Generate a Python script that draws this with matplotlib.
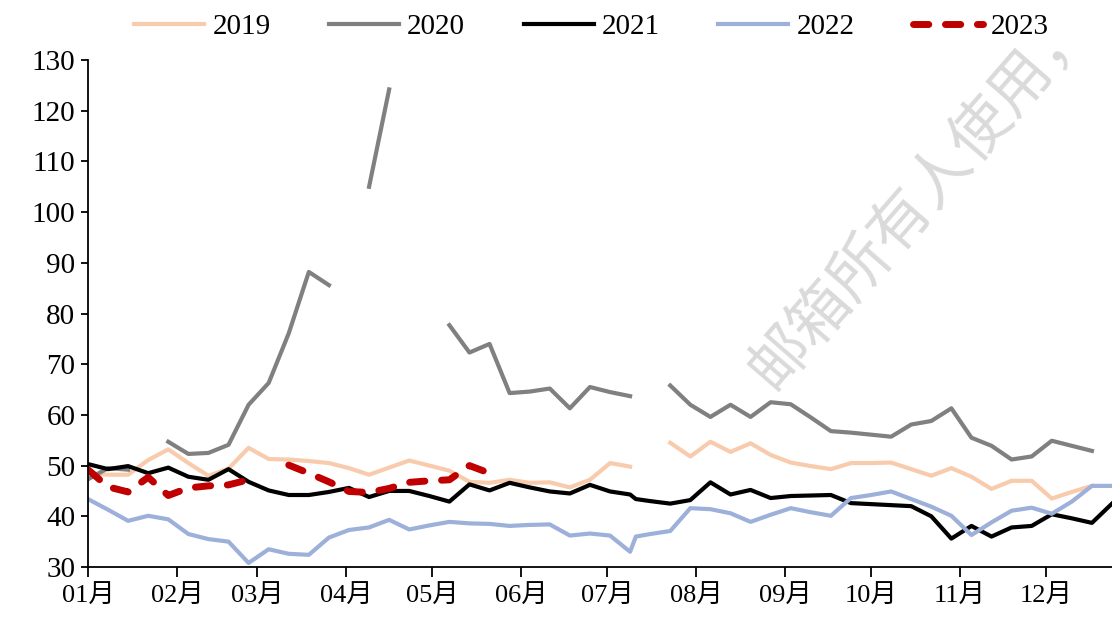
import numpy as np
import pandas as pd
import matplotlib
matplotlib.use("Agg")
import matplotlib.pyplot as plt
import matplotlib.dates as mdates

plt.rcParams['font.family'] = ['Liberation Serif', 'Noto Sans CJK SC']

# weekly dates (same calendar days each year)
weeks = ["01-01", "01-08", "01-15", "01-22", "01-29", "02-05", "02-12", "02-19", "02-26",
         "03-05", "03-12", "03-19", "03-26", "04-02", "04-09", "04-16", "04-23", "04-30",
         "05-07", "05-14", "05-21", "05-28", "06-04", "06-11", "06-18", "06-25",
         "07-02", "07-09", "07-16", "07-23", "07-30", "08-06", "08-13", "08-20", "08-27",
         "09-03", "09-10", "09-17", "09-24", "10-01", "10-08", "10-15", "10-22", "10-29",
         "11-05", "11-12", "11-19", "11-26", "12-03", "12-10", "12-17", "12-24"]
# 2021 / 2022 have one extra point on 07-11
weeks_b = weeks[:28] + ["07-11"] + weeks[28:]

v2019 = [48.5, 48.2, 48.2, 51.1, 53.2, 50.5, 48.0, 49.4, 53.5, 51.3, 51.2, 50.9, 50.5,
         49.5, 48.2, 49.6, 51.0, 50.0, 49.0, 46.8, 46.6, 47.2, 46.6, 46.7, 45.7, 47.2,
         50.5, 49.8, None, 54.5, 51.8, 54.7, 52.7, 54.4, 52.1, 50.6, 49.9, 49.3, 50.5,
         50.5, 50.6, 49.3, 48.0, 49.5, 47.8, 45.4, 47.0, 47.0, 43.5, 44.8, 46.0, None]
v2020 = [47.3, 49.5, 49.2, None, 54.7, 52.3, 52.5, 54.1, 62.0, 66.3, 76.1, 88.2, 85.6,
         None, 105.0, 124.2, None, None, 77.7, 72.3, 74.0, 64.3, 64.6, 65.2, 61.3, 65.5,
         64.5, 63.7, None, 65.8, 62.0, 59.6, 62.0, 59.6, 62.5, 62.1, 59.5, 56.8, 56.5,
         56.1, 55.7, 58.1, 58.8, 61.3, 55.5, 53.9, 51.2, 51.8, 54.9, 53.9, 52.9, None]
v2021 = [50.3, 49.3, 49.9, 48.5, 49.6, 47.8, 47.2, 49.3, 46.8, 45.1, 44.2, 44.2, 44.8,
         45.6, 43.8, 45.0, 45.0, 44.0, 42.9, 46.3, 45.1, 46.6, 45.7, 44.9, 44.5, 46.2,
         44.9, 44.3, 43.4, 43.0, 42.5, 43.2, 46.7, 44.3, 45.2, 43.6, 44.0, 44.1, 44.2,
         42.6, 42.4, 42.2, 42.0, 40.0, 35.6, 38.1, 36.0, 37.8, 38.1, 40.4, 39.6, 38.7, 42.5]
v2022 = [43.4, 41.3, 39.1, 40.1, 39.4, 36.5, 35.5, 35.0, 30.8, 33.5, 32.6, 32.4, 35.8,
         37.3, 37.8, 39.3, 37.4, 38.2, 38.9, 38.6, 38.5, 38.1, 38.3, 38.4, 36.2, 36.6,
         36.2, 33.0, 36.0, 36.5, 37.1, 41.6, 41.4, 40.6, 38.9, 40.3, 41.6, 40.8, 40.1,
         43.6, 44.2, 44.9, 43.4, 41.9, 40.1, 36.3, 38.8, 41.1, 41.7, 40.5, 42.9, 46.0, 46.0]
v2023 = [49.2, 45.8, 44.8, 47.7, 44.1, 45.6, 46.0, 46.2, 47.2, None, 50.1, 48.5, 46.8,
         44.9, 44.7, 45.5, 46.7, 47.0, 47.2, 50.0, 48.5]

yticks = list(range(30, 140, 10))


def to_dates(md):
    return pd.to_datetime(["2021-" + s for s in md])


def to_vals(v):
    return np.array([np.nan if x is None else x for x in v], dtype=float)


fig = plt.figure(figsize=(11.12, 6.2), dpi=100)
ax = fig.add_axes([0.0791, 0.0855, 0.9209, 0.8177])

# watermark
fig.text(0.828, 0.684, "邮箱所有人使用，", fontsize=44, color="#DADADA",
         rotation=49, ha="center", va="center", rotation_mode="anchor",
         family=["Noto Sans CJK SC"], zorder=0)

ax.plot(to_dates(weeks), to_vals(v2019), color="#F8CBAD", lw=3, label="2019")
ax.plot(to_dates(weeks), to_vals(v2020), color="#808080", lw=3, label="2020")
ax.plot(to_dates(weeks_b), to_vals(v2021), color="#000000", lw=3, label="2021")
ax.plot(to_dates(weeks_b), to_vals(v2022), color="#9DB0DA", lw=3, label="2022")
ax.plot(to_dates(weeks[:len(v2023)]), to_vals(v2023), color="#C00000", lw=5,
        dashes=(2.2, 2.4), dash_capstyle="round", label="2023")

ax.set_ylim(30, 130)
ax.set_yticks(yticks)
ax.set_xlim(pd.Timestamp("2021-01-01"), pd.Timestamp("2021-12-24"))
ax.xaxis.set_major_locator(mdates.MonthLocator())
ax.xaxis.set_major_formatter(mdates.DateFormatter("%m月"))
ax.patch.set_alpha(0)

for s in ["top", "right"]:
    ax.spines[s].set_visible(False)
for s in ["left", "bottom"]:
    ax.spines[s].set_linewidth(1.3)
ax.tick_params(axis="y", direction="out", length=5, width=1.3, labelsize=21, pad=4)
ax.tick_params(axis="x", direction="out", length=7, width=1.3, labelsize=19, pad=6)

fig.legend(loc="upper center", bbox_to_anchor=(0.532, 1.02), ncol=5, frameon=False,
           fontsize=21, handlelength=2.4, handletextpad=0.28, columnspacing=2.0)

fig.savefig("out.png", dpi=100)
